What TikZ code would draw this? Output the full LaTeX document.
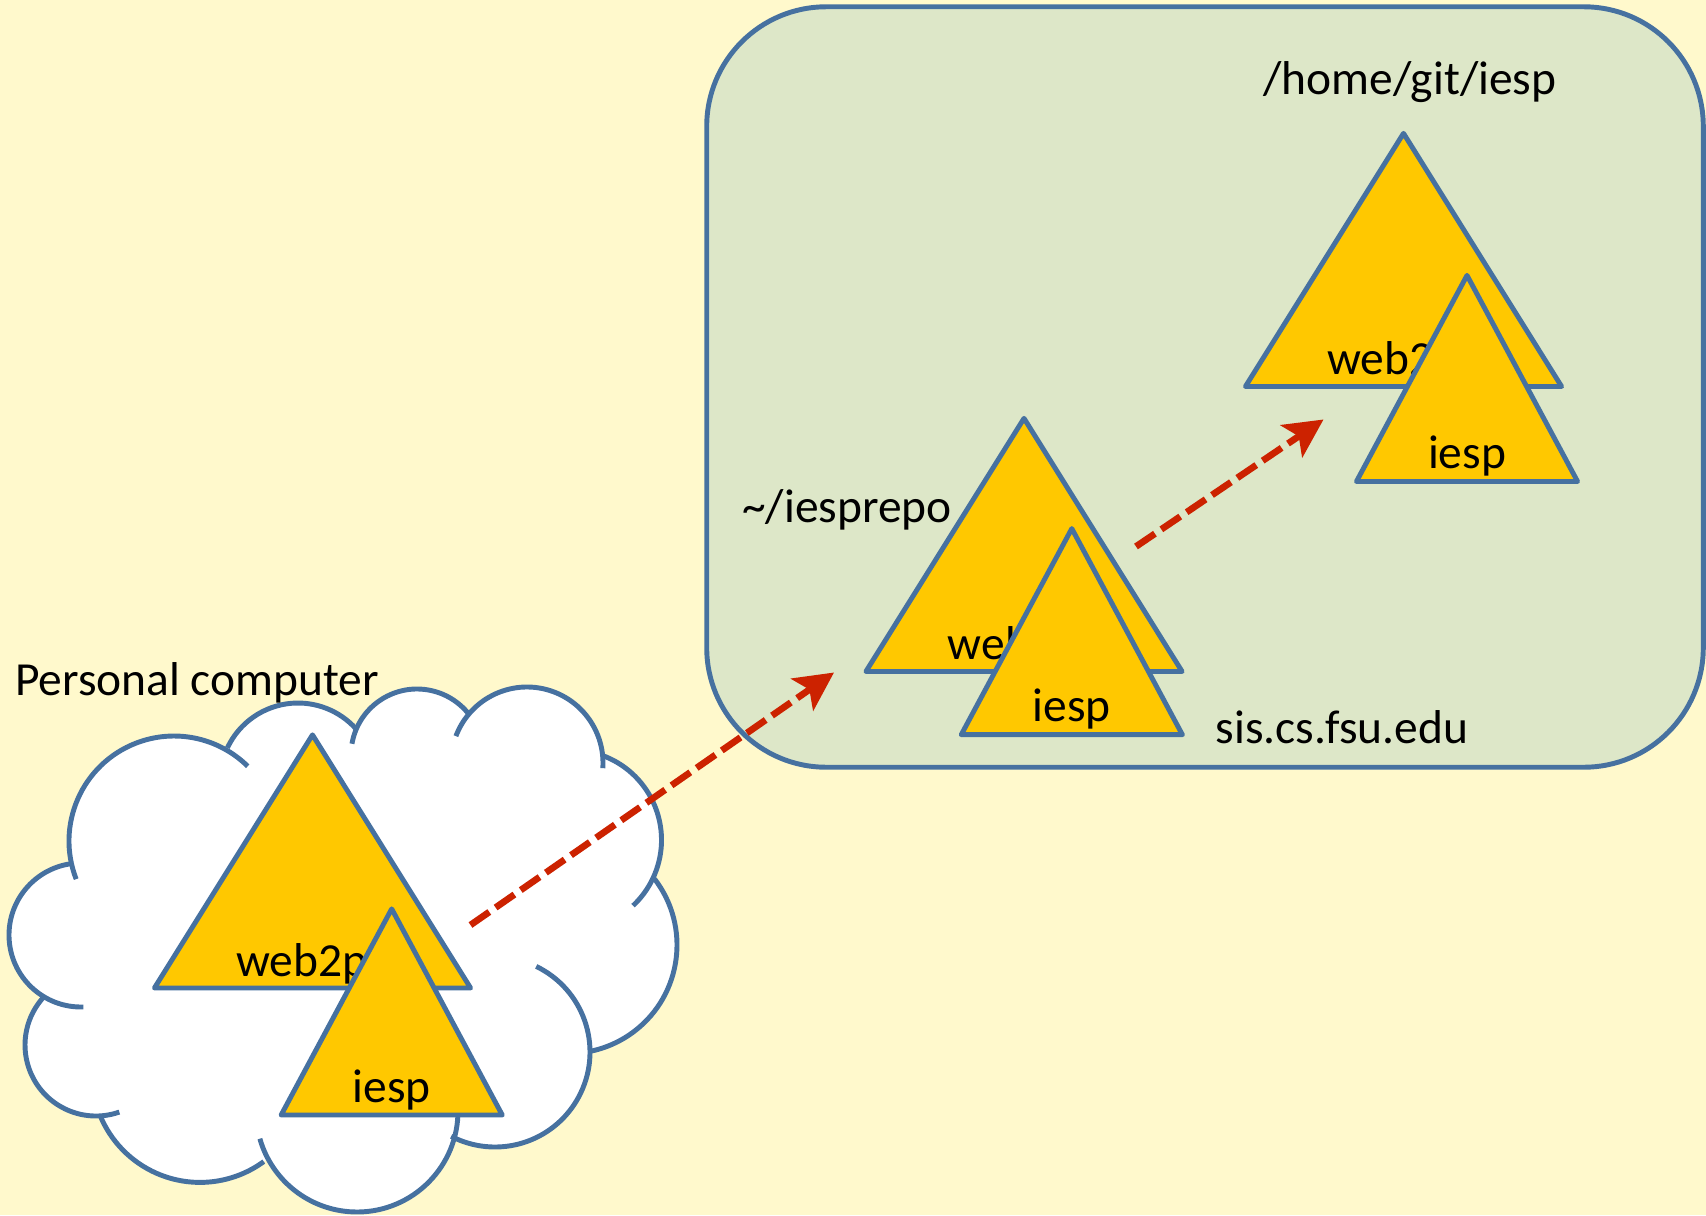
\documentclass[tikz,border=0pt]{standalone}
\usepackage{fontspec}
\setmainfont{Carlito}
\usepackage{tikz}
\usetikzlibrary{shapes,arrows.meta,positioning,calc}
\definecolor{bgyellow}{RGB}{255,249,204}
\definecolor{servergreen}{RGB}{221,231,200}
\definecolor{edgeblue}{RGB}{70,113,160}
\definecolor{repogold}{RGB}{255,200,0}
\definecolor{pushred}{RGB}{204,34,0}

\begin{document}
\begin{tikzpicture}[x=0.01cm, y=-0.01cm,
        serverbox/.style={rectangle, draw=edgeblue, line width=1.4pt, rounded corners=34pt, fill=servergreen, minimum width=9.96cm, minimum height=7.6cm},
        repo/.style={isosceles triangle, isosceles triangle stretches, shape border rotate=90, draw=edgeblue, fill=repogold, line width=1.4pt, line join=round, inner sep=0pt, outer sep=0pt, anchor=lower side},
        bigrepo/.style={repo, minimum width=3.16cm, minimum height=2.53cm},
        subrepo/.style={repo, minimum width=2.21cm, minimum height=2.06cm},
        txt/.style={font=\fontsize{13.5}{16}\selectfont, inner sep=0pt, anchor=base},
        puff/.style={draw=edgeblue, line width=1.4pt},
        push/.style={-{Stealth[length=11pt, width=11pt, inset=2.5pt]}, draw=pushred, line width=1.9pt, dash pattern=on 6.5pt off 2.2pt}]

      \useasboundingbox (0,0) rectangle (1706,1215);
      \fill[bgyellow] (0,0) rectangle (1706,1215);

      % server
      \node[serverbox] (server) at (1205,387) {};

      % personal computer cloud
      \fill[white] (174,841) circle[radius=105] (298,781) circle[radius=78] (417,755) circle[radius=66]
        (527,763) circle[radius=76] (571.5,840) circle[radius=90] (568.5,945) circle[radius=108.5]
        (495,1052) circle[radius=95] (357,1111) circle[radius=101] (200,1074.4) circle[radius=108]
        (96,1045) circle[radius=71] (81,935) circle[radius=72];
      \fill[white] (174,841) -- (298,781) -- (417,755) -- (527,763) -- (571.5,840) -- (568.5,945)
        -- (495,1052) -- (357,1111) -- (200,1074.4) -- (96,1045) -- (81,935) -- cycle;
      \draw[puff] (174,841) ++(158.7:105) arc[start angle=158.7, end angle=314.6, radius=105];
      \draw[puff] (298,781) ++(205.2:78) arc[start angle=205.2, end angle=317.7, radius=78];
      \draw[puff] (417,755) ++(189.8:66) arc[start angle=189.8, end angle=322.1, radius=66];
      \draw[puff] (527,763) ++(200.7:76) arc[start angle=200.7, end angle=363.9, radius=76];
      \draw[puff] (571.5,840) ++(289.6:90) arc[start angle=289.6, end angle=406.9, radius=90];
      \draw[puff] (568.5,945) ++(322.4:108.5) arc[start angle=322.4, end angle=439.5, radius=108.5];
      \draw[puff] (495,1052) ++(295.7:95) arc[start angle=295.7, end angle=477.5, radius=95];
      \draw[puff] (357,1111) ++(2.3:101) arc[start angle=2.3, end angle=164.1, radius=101];
      \draw[puff] (200,1074.4) ++(53.8:108) arc[start angle=53.8, end angle=157.9, radius=108];
      \draw[puff] (96,1045) ++(70.8:71) arc[start angle=70.8, end angle=223.5, radius=71];
      \draw[puff] (81,935) ++(88.1:72) arc[start angle=88.1, end angle=261.5, radius=72];

      % repositories
      \node[bigrepo] (pcweb) at (312.5,988) {};
      \node[txt] (pcwebtxt) at ($(pcweb.lower side)+(0,-12)$) {web2py};
      \node[subrepo] (pciesp) at (391.7,1115) {};
      \node[txt] (pciesptxt) at ($(pciesp.lower side)+(0,-13)$) {iesp};

      \node[bigrepo] (workweb) at (1024,671.5) {};
      \node[txt] (workwebtxt) at ($(workweb.lower side)+(0,-12)$) {web2py};
      \node[subrepo] (workiesp) at (1071.8,734.7) {};
      \node[txt] (workiesptxt) at ($(workiesp.lower side)+(0,-13)$) {iesp};

      \node[bigrepo] (bareweb) at (1403.5,386.5) {};
      \node[txt] (barewebtxt) at ($(bareweb.lower side)+(0,-12)$) {web2py};
      \node[subrepo] (bareiesp) at (1467,481.5) {};
      \node[txt] (bareiesptxt) at ($(bareiesp.lower side)+(0,-13)$) {iesp};

      % labels
      \node[txt] (pclabel) at (197,695) {Personal computer};
      \node[txt] (homelabel) at (1410,94) {/home/git/iesp};
      \node[txt] (repolabel) at (847,522) {\textasciitilde/iesprepo};
      \node[txt] (hostlabel) at (1342,743) {sis.cs.fsu.edu};

      % pushes
      \coordinate (pcout) at ($(pcweb.lower side)+(158,-63)$);
      \coordinate (workin) at ($(workweb.lower side)+(-190,1)$);
      \coordinate (workout) at ($(workweb.lower side)+(112,-125)$);
      \coordinate (barein) at ($(bareweb.lower side)+(-80,33)$);
      \draw[push] (pcout) -- (workin);
      \draw[push] (workout) -- (barein);
    \end{tikzpicture}
\end{document}
